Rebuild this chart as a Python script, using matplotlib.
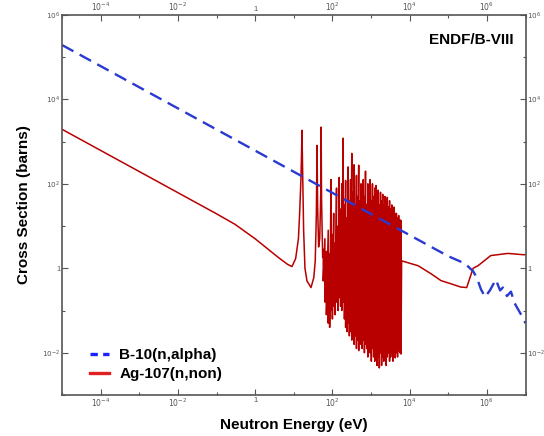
import numpy as np
import matplotlib
matplotlib.use("Agg")
import matplotlib.pyplot as plt
from matplotlib.ticker import FixedLocator, FixedFormatter, NullFormatter

plt.rcParams['font.family'] = ['Liberation Sans', 'DejaVu Sans']

# B-10(n,alpha) cross section (eV, barns)
b10_energy = [1e-5, 1e-3, 1e-1, 10, 1e3, 1e4, 1e5, 2.7e5, 4.4e5, 5.5e5, 7e5, 9e5,
              1.2e6, 1.7e6, 2.2e6, 2.6e6, 3.3e6, 4.2e6, 5.2e6, 8.5e6, 1e7]
b10_xs = [1.93e5, 1.93e4, 1930, 193, 19.3, 6.1, 1.93, 1.3, 0.85, 0.6, 0.32, 0.21,
          0.3, 0.54, 0.3, 0.35, 0.22, 0.28, 0.15, 0.068, 0.05]

# Ag-107 below the dense resonance region (eV, barns)
ag_energy_low = [1e-5, 1e-3, 0.1, 0.3, 1.0, 2.0, 4.0, 7.0, 9.0, 11.2, 13.2, 14.2, 15.3,
                 15.9, 16.3, 16.7, 17.3, 18.0, 19.5, 22.0, 28.0, 33.0, 36.0, 38.5, 40.0,
                 41.5, 44.0, 47.0, 50.0, 51.0, 52.5, 56.0]
ag_xs_low = [1950, 195, 19.5, 11.0, 5.0, 3.0, 1.8, 1.23, 1.1, 1.7, 5.0, 20, 120,
             500, 1850, 500, 60, 8.0, 1.0, 0.5, 0.35, 0.6, 1.5, 20, 810,
             30, 3.2, 5.0, 60, 2200, 40, 1.8]

# resolved resonances: energy (eV), log10 of peak and dip (barns)
res_energy = [58, 64, 70, 78, 85, 92, 100, 108, 118, 128, 140, 150, 163, 175, 190,
              205, 220, 238, 255, 275, 295, 318, 340, 365, 390, 420, 450, 480, 515,
              550, 590, 630, 675, 720, 775, 830, 890, 950, 1020, 1090, 1170, 1250,
              1340, 1430, 1530, 1640, 1760, 1880, 2010, 2150, 2300, 2460, 2640, 2820,
              3020, 3230, 3460, 3700, 3960, 4240, 4540, 4860, 5200, 5570, 5960]
res_peak_log10 = [0.45, 0.7, 0.4, 0.9, 0.35, 2.1, 0.8, 1.3, 0.6, 1.9, 1.0, 2.15, 1.4,
                  2.0, 3.08, 1.5, 2.08, 1.2, 2.4, 1.6, 2.1, 2.72, 1.8, 2.45, 1.5, 2.2,
                  1.7, 2.44, 1.6, 2.0, 1.4, 2.1, 1.7, 2.3, 1.5, 2.0, 1.8, 2.1, 1.6, 2.0,
                  1.7, 1.9, 1.96, 1.6, 1.85, 1.5, 1.8, 1.6, 1.75, 1.5, 1.7, 1.55, 1.68,
                  1.45, 1.6, 1.4, 1.5, 1.35, 1.45, 1.3, 1.3, 1.2, 1.25, 1.15, 1.13]
res_dip_log10 = [-0.3, -0.8, -1.1, -1.3, -1.4, -1.0, -1.2, -0.9, -1.1, -0.8, -1.0, -0.7,
                 -0.9, -1.0, -0.8, -1.2, -1.4, -1.5, -1.3, -1.6, -1.5, -1.7, -1.5, -1.8,
                 -1.6, -1.9, -1.7, -1.95, -1.6, -1.8, -1.9, -1.7, -2.0, -1.8, -1.9, -2.1,
                 -1.8, -2.0, -2.2, -1.9, -2.1, -2.2, -1.9, -2.3, -2.1, -2.36, -2.0, -2.3,
                 -2.1, -2.2, -2.0, -2.3, -2.1, -2.0, -2.2, -2.1, -2.0, -2.2, -2.05, -2.12,
                 -2.0, -2.1, -1.95, -2.0, -2.03]

# solid core of the dense region
band_energy = [300, 700, 1500, 3000, 6000]
band_hi_log10 = [1.3, 1.55, 1.45, 1.25, 1.05]
band_lo_log10 = [-1.0, -1.3, -1.5, -1.6, -1.7]

# Ag-107 above the resonances (eV, barns)
ag_energy_high = [6.2e3, 1.66e4, 3.6e4, 6.5e4, 1.17e5, 2.1e5, 3.0e5, 4.4e5, 5.9e5,
                  1.26e6, 3.5e6, 8.5e6, 1e7]
ag_xs_high = [1.5, 1.15, 0.74, 0.51, 0.43, 0.36, 0.35, 1.0, 1.15, 2.0, 2.25, 2.1, 2.1]

x_ticks = [1e-4, 1e-2, 1, 1e2, 1e4, 1e6]
x_ticklabels = [r'$10^{-4}$', r'$10^{-2}$', '1', r'$10^{2}$', r'$10^{4}$', r'$10^{6}$']
x_minor = [1e-5, 1e-3, 1e-1, 10, 1e3, 1e5, 1e7]
y_ticks = [1e-2, 1, 1e2, 1e4, 1e6]
y_ticklabels = [r'$10^{-2}$', '1', r'$10^{2}$', r'$10^{4}$', r'$10^{6}$']
y_minor = [1e-3, 1e-1, 10, 1e3, 1e5]

red = '#b80000'
blue = '#2a3ad0'

# join the Ag-107 pieces into one curve
res_x = np.repeat(res_energy, 2)
res_y = 10 ** np.column_stack([res_peak_log10, res_dip_log10]).ravel()
ag_x = np.concatenate([ag_energy_low, res_x, ag_energy_high])
ag_y = np.concatenate([ag_xs_low, res_y, ag_xs_high])

fig = plt.figure(figsize=(5.44, 4.36), dpi=100)
ax = fig.add_axes([0.114, 0.094, 0.852, 0.872])

ax.fill_between(band_energy, 10 ** np.array(band_lo_log10), 10 ** np.array(band_hi_log10),
                color=red, lw=0)
ax.plot(ag_x, ag_y, color=red, lw=1.1, label='Ag-107(n,non)')
ax.plot(b10_energy, b10_xs, color=blue, lw=1.7, dashes=(5.5, 3), label='B-10(n,alpha)')

ax.set_xscale('log')
ax.set_yscale('log')
ax.set_xlim(1e-5, 1e7)
ax.set_ylim(1e-3, 1e6)

ax.xaxis.set_major_locator(FixedLocator(x_ticks))
ax.xaxis.set_major_formatter(FixedFormatter(x_ticklabels))
ax.xaxis.set_minor_locator(FixedLocator(x_minor))
ax.xaxis.set_minor_formatter(NullFormatter())
ax.yaxis.set_major_locator(FixedLocator(y_ticks))
ax.yaxis.set_major_formatter(FixedFormatter(y_ticklabels))
ax.yaxis.set_minor_locator(FixedLocator(y_minor))
ax.yaxis.set_minor_formatter(NullFormatter())

ax.tick_params(which='both', direction='in', top=True, right=True,
               labeltop=True, labelright=True, colors='#555555', labelsize=5.5,
               width=0.8, pad=2.5)
ax.tick_params(axis='x', which='major', pad=1.5)
ax.tick_params(axis='y', which='major', pad=1.2, labelsize=5.2)
ax.tick_params(which='major', length=4)
ax.tick_params(which='minor', length=2.5)
for s in ax.spines.values():
    s.set_color('#555555')
    s.set_linewidth(1.2)

ax.set_xlabel('Neutron Energy (eV)', fontsize=11, fontweight='bold', labelpad=6)
ax.set_ylabel('Cross Section (barns)', fontsize=11, fontweight='bold', labelpad=8)
ax.text(0.974, 0.934, 'ENDF/B-VIII', transform=ax.transAxes, ha='right', va='center',
        fontsize=11, fontweight='bold')

handles, labels = ax.get_legend_handles_labels()
leg = ax.legend(handles[::-1], labels[::-1], loc='lower left',
                bbox_to_anchor=(0.03, 0.0), frameon=False,
                prop={'weight': 'bold', 'size': 11},
                handlelength=1.25, handletextpad=0.7, labelspacing=0.35)
legend_lines = leg.get_lines()
legend_lines[0].set_color('#1f1fff')
legend_lines[0].set_linewidth(2.4)
legend_lines[0].set_dashes((2.2, 1.6))
legend_lines[1].set_color('#e02020')
legend_lines[1].set_linewidth(2.4)

fig.savefig('out.png', dpi=100)
